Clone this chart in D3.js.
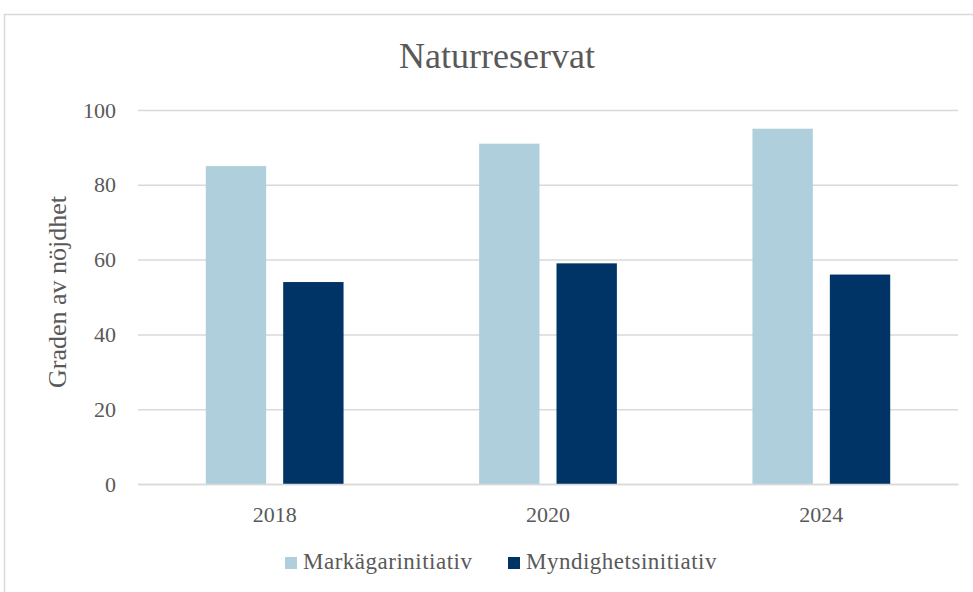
<!DOCTYPE html>
<html>
<head>
<meta charset="utf-8">
<script src="https://cdn.jsdelivr.net/npm/d3@7"></script>
<style>
  body { margin: 0; background: #fff; }
  text { font-family: "Liberation Serif", "Times New Roman", serif; fill: #595959; }
</style>
</head>
<body>
<div id="vis"></div>
<script>
// data
const YEARS = ["2018", "2020", "2024"]
const SERIES = ["Markägarinitiativ", "Myndighetsinitiativ"]
const MARKAGARE = [85, 91, 95]
const MYNDIGHET = [54, 59, 56]
const Y_TICKS = [0, 20, 40, 60, 80, 100]
const COLORS = ["#aecfdb", "#003366"]

const FRAME_WIDTH = 973
const FRAME_HEIGHT = 592
const MARGINS = {left: 138, right: 15, top: 110, bottom: 108}

const VIS_WIDTH = FRAME_WIDTH - MARGINS.left - MARGINS.right
const VIS_HEIGHT = FRAME_HEIGHT - MARGINS.top - MARGINS.bottom

const svg = d3.select('#vis')
              .append('svg')
              .attr('width', FRAME_WIDTH)
              .attr('height', FRAME_HEIGHT)

// outer chart border
svg.append('rect')
   .attr('x', 4.5).attr('y', 14.5)
   .attr('width', FRAME_WIDTH + 10).attr('height', FRAME_HEIGHT + 10)
   .attr('fill', 'none')
   .attr('stroke', '#d9d9d9')
   .attr('stroke-width', 1.5)

const g = svg.append('g')
             .attr('transform', 'translate(' + MARGINS.left + ',' + MARGINS.top + ')')

const x = d3.scaleBand()
            .domain(YEARS)
            .range([0, VIS_WIDTH])

const xInner = d3.scaleBand()
                 .domain(SERIES)
                 .range([x.bandwidth() * 0.248, x.bandwidth() * 0.752])
                 .paddingInner(0.22)

const y = d3.scaleLinear()
            .domain([0, 100])
            .range([VIS_HEIGHT, 0])

// gridlines
g.append('g')
 .call(d3.axisLeft(y).tickValues(Y_TICKS).tickSize(-VIS_WIDTH).tickFormat(''))
 .call(a => a.select('.domain').remove())
 .selectAll('line')
 .attr('stroke', '#d9d9d9')
 .attr('stroke-width', 1.5)

// y tick labels
g.append('g')
 .call(d3.axisLeft(y).tickValues(Y_TICKS).tickSize(0).tickPadding(22))
 .call(a => a.select('.domain').remove())
 .selectAll('text')
 .attr('font-size', '22px')
 .attr('fill', '#595959')

const rows = YEARS.map((yr, i) => ({year: yr, values: [MARKAGARE[i], MYNDIGHET[i]]}))

// bars
g.selectAll('.grp')
 .data(rows)
 .enter()
 .append('g')
 .attr('transform', d => 'translate(' + x(d.year) + ',0)')
 .selectAll('rect')
 .data(d => d.values.map((v, j) => ({key: SERIES[j], value: v, j: j})))
 .enter()
 .append('rect')
 .attr('x', d => xInner(d.key))
 .attr('y', d => y(d.value))
 .attr('width', xInner.bandwidth())
 .attr('height', d => VIS_HEIGHT - y(d.value))
 .attr('fill', d => COLORS[d.j])

// x axis
g.append('g')
 .attr('transform', 'translate(0,' + VIS_HEIGHT + ')')
 .call(d3.axisBottom(x).tickSize(0).tickPadding(22))
 .call(a => a.select('.domain').attr('stroke', '#d9d9d9').attr('stroke-width', 1.5))
 .selectAll('text')
 .attr('font-size', '22px')
 .attr('fill', '#595959')

// title
svg.append('text')
   .attr('x', 497)
   .attr('y', 68)
   .attr('text-anchor', 'middle')
   .attr('font-size', '36px')
   .text('Naturreservat')

// y label
svg.append('text')
   .attr('transform', 'translate(66,' + 292 + ') rotate(-90)')
   .attr('text-anchor', 'middle')
   .attr('font-size', '26px')
   .text('Graden av nöjdhet')

// legend
const legendX = [285, 508]
const legend = svg.selectAll('.leg')
                  .data(SERIES)
                  .enter()
                  .append('g')
                  .attr('transform', (d, i) => 'translate(' + legendX[i] + ',557)')
legend.append('rect')
      .attr('width', 12).attr('height', 12)
      .attr('fill', (d, i) => COLORS[i])
legend.append('text')
      .attr('x', 18).attr('y', 12)
      .attr('font-size', '23px')
      .attr('letter-spacing', '0.5px')
      .text(d => d)
</script>
</body>
</html>
